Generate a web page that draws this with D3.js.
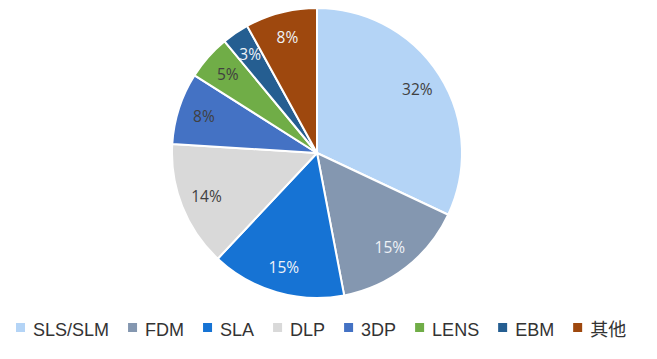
<!DOCTYPE html>
<html>
<head>
<meta charset="utf-8">
<script src="https://cdn.jsdelivr.net/npm/d3@7"></script>
<style>
  html, body { margin: 0; padding: 0; background: #fff; }
  svg { display: block; }
</style>
</head>
<body>
<svg id="chart" width="657" height="359"></svg>
<script>
const categories = ["SLS/SLM", "FDM", "SLA", "DLP", "3DP", "LENS", "EBM", "其他"];
const values = [32, 15, 15, 14, 8, 5, 3, 8];
const labels = ["32%", "15%", "15%", "14%", "8%", "5%", "3%", "8%"];
const colors = ["#b4d4f6", "#8497b0", "#1673d4", "#d9d9d9", "#4472c4", "#70ad47", "#255e91", "#9e480e"];
const labelColors = ["#404040", "#eef2f7", "#eef2f7", "#404040", "#404040", "#404040", "#eef2f7", "#eef2f7"];

const W = 657, H = 359;
const cx = 317, cy = 153, R = 145;
const svg = d3.select("#chart");
svg.append("rect").attr("width", W).attr("height", H).attr("fill", "#fff");

const data = categories.map((c, i) => ({ cat: c, value: values[i], label: labels[i], i }));
const pie = d3.pie().value(d => d.value).sort(null);
const arcs = pie(data);
const arc = d3.arc().innerRadius(0).outerRadius(R);
const labelArc = d3.arc().innerRadius(R * 0.82).outerRadius(R * 0.82);

const g = svg.append("g").attr("transform", `translate(${cx},${cy})`);
g.selectAll("path").data(arcs).join("path")
  .attr("d", arc)
  .attr("fill", d => colors[d.data.i])
  .attr("stroke", "#fff")
  .attr("stroke-width", 2)
  .attr("stroke-linejoin", "round");

g.selectAll("text").data(arcs).join("text")
  .attr("transform", d => `translate(${labelArc.centroid(d)})`)
  .attr("text-anchor", "middle")
  .attr("dy", "0.36em")
  .attr("font-family", "'Open Sans', 'Noto Sans', sans-serif")
  .attr("font-size", 15.5)
  .attr("fill", d => labelColors[d.data.i])
  .text(d => d.data.label);

// Legend
const legend = svg.append("g");
let x = 16;
const markerSize = 9, gapMarker = 8, gapItem = 19;
data.forEach(d => {
  legend.append("rect")
    .attr("x", x).attr("y", 323)
    .attr("width", markerSize).attr("height", markerSize)
    .attr("fill", colors[d.i]);
  const t = legend.append("text")
    .attr("x", x + markerSize + gapMarker)
    .attr("y", 336)
    .attr("font-family", d.cat === "其他" ? "'Noto Sans CJK SC', sans-serif" : "'Liberation Sans', Arial, sans-serif")
    .attr("font-size", 18)
    .attr("fill", "#333")
    .text(d.cat);
  x += markerSize + gapMarker + t.node().getComputedTextLength() + gapItem;
});
</script>
</body>
</html>
